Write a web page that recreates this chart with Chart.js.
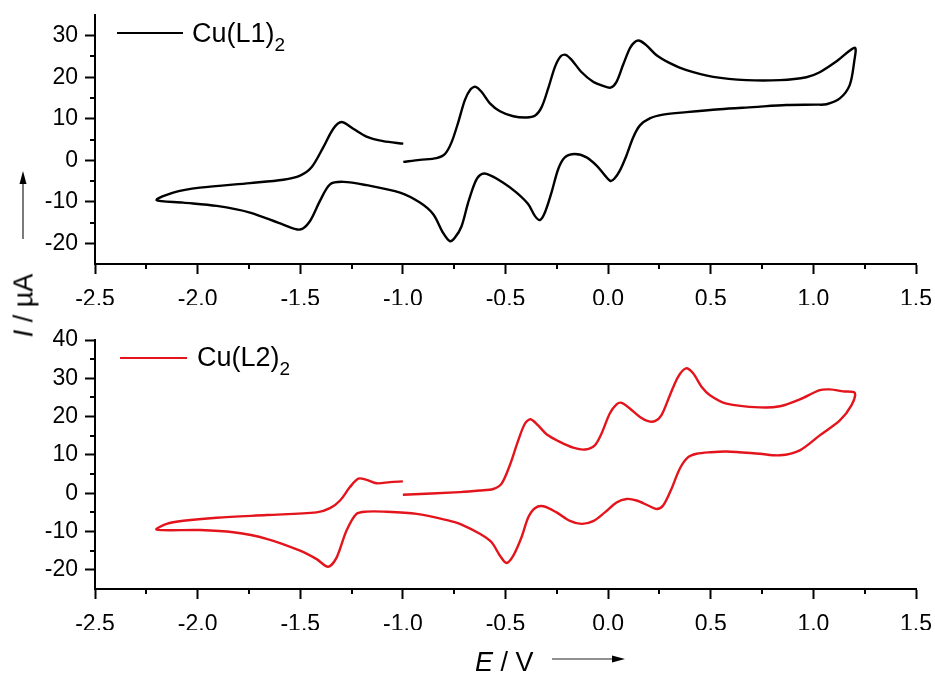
<!DOCTYPE html>
<html>
<head>
<meta charset="utf-8">
<script src="https://cdn.jsdelivr.net/npm/chart.js@4.4.1/dist/chart.umd.min.js"></script>
<style>
  html, body { margin:0; padding:0; background:#fff; }
  #wrap { position:relative; width:935px; height:674px; background:#fff; overflow:hidden; font-family:"Liberation Sans", Arial, sans-serif; color:#000; }
  canvas { position:absolute; left:0; }
  .leg { position:absolute; font-size:27px; line-height:27px; white-space:nowrap; }
  .leg .sub { font-size:19px; position:relative; top:9px; }
  .legline { position:absolute; height:0; }
  .title { position:absolute; font-size:27px; line-height:27px; white-space:nowrap; }
</style>
</head>
<body>
<div id="wrap">
  <canvas id="c1" width="935" height="320" style="top:0px"></canvas>
  <canvas id="c2" width="935" height="354" style="top:320px"></canvas>

  <div class="legline" style="left:117px;top:32px;width:66px;border-top:2.5px solid #000"></div>
  <div class="leg" style="left:192px;top:20px">Cu(L1)<span class="sub">2</span></div>

  <div class="legline" style="left:120px;top:357px;width:67px;border-top:2.5px solid #e3141c"></div>
  <div class="leg" style="left:197px;top:344px">Cu(L2)<span class="sub">2</span></div>

  <div class="title" style="left:-16px;top:292px;width:80px;text-align:center;transform:rotate(-90deg);transform-origin:50% 50%"><i>I</i> / µA</div>
  <div class="title" style="left:475px;top:649px"><i>E</i> / V</div>

  <svg width="935" height="674" style="position:absolute;left:0;top:0;pointer-events:none">
    <line x1="23" y1="239" x2="23" y2="182" stroke="#222" stroke-width="1.2"/>
    <polygon points="23,171 19.5,184 26.5,184" fill="#000"/>
    <line x1="552" y1="659" x2="614" y2="659" stroke="#222" stroke-width="1.2"/>
    <polygon points="625,659 612,655.5 612,662.5" fill="#000"/>
  </svg>
</div>
<script>
// ---- Data ----
const xTicks = [-2.5, -2.0, -1.5, -1.0, -0.5, 0.0, 0.5, 1.0, 1.5];
const xMinor = [-2.25, -1.75, -1.25, -0.75, -0.25, 0.25, 0.75, 1.25];
const yTicks1 = [-20, -10, 0, 10, 20, 30];
const yMinor1 = [-15, -5, 5, 15, 25];
const yTicks2 = [-20, -10, 0, 10, 20, 30, 40];
const yMinor2 = [-15, -5, 5, 15, 25, 35];

// Cu(L1)2 : potential (V) and current (µA), in scan order starting at -1.0 V
const seriesName1 = "Cu(L1)2";
const E1 = [
  -0.998, -0.917, -0.836, -0.795, -0.763, -0.730, -0.698, -0.670, -0.646, -0.617,
  -0.576, -0.527, -0.462, -0.398, -0.357, -0.324, -0.292, -0.259, -0.232, -0.207,
  -0.178, -0.129, -0.073, -0.024, 0.012, 0.041, 0.073, 0.106, 0.130, 0.153,
  0.187, 0.236, 0.301, 0.382, 0.512, 0.674, 0.837, 0.966, 1.031, 1.112,
  1.202,
  1.199, 1.177, 1.129, 1.064, 1.015, 0.869, 0.707, 0.544, 0.382, 0.268,
  0.203, 0.155, 0.122, 0.089, 0.057, 0.031, 0.012, -0.015, -0.056, -0.105,
  -0.162, -0.211, -0.243, -0.276, -0.308, -0.332, -0.357, -0.389, -0.446, -0.511,
  -0.592, -0.625, -0.649, -0.682, -0.714, -0.747, -0.771, -0.804, -0.852, -0.917,
  -1.014, -1.177, -1.29, -1.355, -1.404, -1.453, -1.501, -1.583, -1.745, -1.907,
  -2.07, -2.2,
  -2.119, -1.989, -1.745, -1.583, -1.501, -1.445, -1.388, -1.339, -1.299, -1.242,
  -1.177, -1.096, -0.998];
const I1 = [
  -0.4, 0.1, 0.5, 1.5, 4.3, 9.2, 14.5, 17.1, 17.7, 16.5,
  13.7, 11.8, 10.6, 10.3, 10.7, 12.8, 17.3, 22.5, 25.0, 25.4,
  24.2, 21.2, 18.9, 17.9, 17.5, 18.9, 23.0, 27.0, 28.5, 28.8,
  27.7, 25.3, 23.4, 21.7, 20.1, 19.3, 19.3, 20.0, 21.2, 23.8,
  27.1,
  23.8, 18.1, 14.9, 13.5, 13.4, 13.3, 12.8, 12.3, 11.6, 11.0,
  10.1, 8.4, 5.5, 1.1, -2.5, -4.4, -5.0, -3.7, -1.3, 0.7,
  1.5, 0.7, -2.1, -7.8, -12.6, -14.4, -13.4, -10.6, -7.8, -5.4,
  -3.3, -3.6, -5.4, -10.2, -15.9, -18.7, -19.5, -17.5, -13.0, -10.2,
  -7.8, -6.0, -5.2, -5.8, -9.8, -14.7, -16.7, -15.5, -12.6, -11.0,
  -10.2, -9.6,
  -7.8, -6.6, -5.5, -4.7, -3.7, -1.7, 3.1, 7.6, 9.2, 7.6,
  5.7, 4.6, 4.0];

// Cu(L2)2 : potential (V) and current (µA), in scan order starting at -1.0 V
const seriesName2 = "Cu(L2)2";
const E2 = [
  -1.0, -0.722, -0.625, -0.560, -0.519, -0.479, -0.438, -0.405, -0.378, -0.341,
  -0.300, -0.235, -0.170, -0.113, -0.065, -0.032, 0.008, 0.041, 0.066, 0.106,
  0.155, 0.195, 0.228, 0.260, 0.301, 0.341, 0.379, 0.414, 0.455, 0.496,
  0.577, 0.739, 0.837, 0.934, 1.031, 1.08, 1.145, 1.202,
  1.186, 1.129, 1.031, 0.934, 0.837, 0.739, 0.577, 0.496, 0.431, 0.390,
  0.349, 0.309, 0.268, 0.236, 0.195, 0.139, 0.090, 0.041, -0.016, -0.073,
  -0.129, -0.186, -0.251, -0.316, -0.357, -0.389, -0.422, -0.462, -0.495, -0.527,
  -0.568, -0.625, -0.722, -0.771, -0.933, -1.096, -1.177, -1.226, -1.275, -1.323,
  -1.364, -1.42, -1.501, -1.664, -1.826, -1.989, -2.2,
  -2.151, -2.07, -1.907, -1.664, -1.42, -1.355, -1.306, -1.258, -1.217, -1.177,
  -1.128, -1.063, -1.0];
const I2 = [
  -0.4, 0.3, 0.7, 1.1, 2.5, 7.3, 13.8, 18.2, 19.3, 17.7,
  15.4, 13.4, 11.9, 11.4, 12.5, 15.6, 20.8, 23.2, 23.6, 22.1,
  19.9, 18.8, 18.8, 20.4, 25.6, 30.4, 32.6, 31.3, 27.8, 25.6,
  23.4, 22.4, 22.7, 24.5, 26.9, 27.1, 26.6, 26.2,
  23.0, 19.0, 15.1, 11.2, 9.9, 10.3, 10.9, 10.7, 10.3, 9.4,
  6.4, 1.2, -3.2, -4.1, -3.2, -1.9, -1.5, -2.4, -5.0, -7.3,
  -8.0, -7.2, -5.0, -3.4, -3.9, -6.3, -11.5, -16.3, -18.2, -16.3,
  -12.8, -10.6, -8.0, -7.2, -5.4, -4.8, -4.8, -5.4, -9.8, -16.8,
  -19.2, -17.2, -15.0, -11.9, -10.2, -9.6, -9.5,
  -8.0, -7.2, -6.4, -5.7, -5.0, -3.9, -1.9, 1.6, 3.8, 3.5,
  2.6, 2.9, 3.1];

// ---- Chart construction ----
const FONT = '"Liberation Sans", Arial, sans-serif';

const minorTicks = {
  id: 'minorTicks',
  afterDraw(chart, args, opts) {
    const ctx = chart.ctx, xs = chart.scales.x, ys = chart.scales.y;
    ctx.save();
    ctx.strokeStyle = '#000';
    ctx.lineWidth = 2;
    ctx.beginPath();
    (opts.x || []).forEach(v => {
      const px = Math.round(xs.getPixelForValue(v));
      ctx.moveTo(px, ys.bottom);
      ctx.lineTo(px, ys.bottom + 5);
    });
    (opts.y || []).forEach(v => {
      const py = Math.round(ys.getPixelForValue(v));
      ctx.moveTo(xs.left, py);
      ctx.lineTo(xs.left - 5, py);
    });
    ctx.stroke();
    ctx.restore();
  }
};

function makeChart(id, name, E, I, color, yMin, yMax, yTicks, yMinor, pad) {
  return new Chart(document.getElementById(id), {
    type: 'scatter',
    data: {
      datasets: [{
        label: name,
        data: E.map((e, i) => ({ x: e, y: I[i] })),
        showLine: true,
        borderColor: color,
        borderWidth: 2.4,
        pointRadius: 0,
        tension: 0.3,
        fill: false
      }]
    },
    options: {
      responsive: false,
      animation: false,
      events: [],
      layout: { padding: pad },
      plugins: {
        legend: { display: false },
        tooltip: { enabled: false },
        minorTicks: { x: xMinor, y: yMinor }
      },
      scales: {
        x: {
          type: 'linear',
          min: -2.5, max: 1.5,
          afterBuildTicks: s => { s.ticks = xTicks.map(v => ({ value: v })); },
          afterFit: s => { s.height = 41; s.paddingLeft = 0; s.paddingRight = 0; },
          grid: { drawOnChartArea: false, tickLength: 10, tickWidth: 2, tickColor: '#000' },
          border: { color: '#000', width: 2 },
          ticks: {
            color: '#000', padding: 12, maxRotation: 0, autoSkip: false,
            font: { family: FONT, size: 23 },
            callback: v => v.toFixed(1)
          }
        },
        y: {
          type: 'linear',
          min: yMin, max: yMax,
          afterBuildTicks: s => { s.ticks = yTicks.map(v => ({ value: v })); },
          afterFit: s => { s.width = 95; s.paddingTop = 0; s.paddingBottom = 0; },
          grid: { drawOnChartArea: false, tickLength: 10, tickWidth: 2, tickColor: '#000' },
          border: { color: '#000', width: 2 },
          ticks: {
            color: '#000', padding: 7, autoSkip: false,
            font: { family: FONT, size: 23 },
            callback: v => String(v)
          }
        }
      }
    },
    plugins: [minorTicks]
  });
}

makeChart('c1', seriesName1, E1, I1, '#000000', -25, 35, yTicks1, yMinor1,
  { left: 0, right: 19, top: 15, bottom: 15 });
makeChart('c2', seriesName2, E2, I2, '#e3141c', -25, 40, yTicks2, yMinor2,
  { left: 0, right: 19, top: 20, bottom: 44 });
</script>
</body>
</html>
